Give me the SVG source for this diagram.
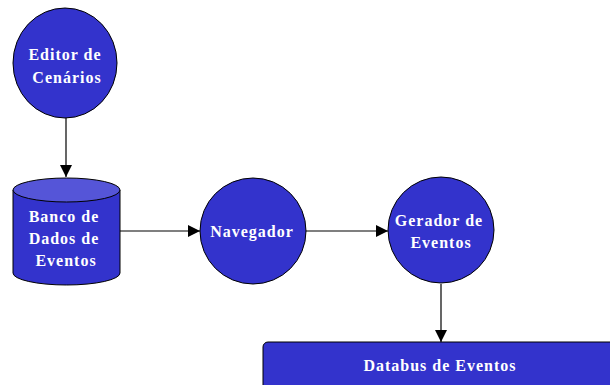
<svg xmlns="http://www.w3.org/2000/svg" width="610" height="385" viewBox="0 0 610 385">
  <defs>
    <marker id="arrow" viewBox="0 0 10 10" refX="10" refY="5" markerWidth="12" markerHeight="12" markerUnits="userSpaceOnUse" orient="auto">
      <path d="M0,0 L10,5 L0,10 Z" fill="#000"/>
    </marker>
    <style>
      .shape { fill: #3333CC; stroke: #000; stroke-width: 1; }
      .cap { fill: #5555D8; stroke: #000; stroke-width: 1; }
      .label { fill: #fff; font-family: "Liberation Serif", "Times New Roman", serif; font-weight: bold; font-size: 16px; letter-spacing: 1px; text-anchor: middle; }
      .edge { stroke: #000; stroke-width: 1.2; fill: none; marker-end: url(#arrow); }
    </style>
  </defs>
  <rect width="610" height="385" fill="#fff"/>

  <g id="connectors">
    <line class="edge" x1="66" y1="118" x2="66" y2="177"/>
    <line class="edge" x1="120" y1="231" x2="200" y2="231"/>
    <line class="edge" x1="306" y1="231" x2="388" y2="231"/>
    <line class="edge" x1="441" y1="284" x2="441" y2="342"/>
  </g>

  <g id="editor-cenarios">
    <ellipse class="shape" cx="65" cy="63" rx="52" ry="55"/>
    <text class="label" x="65" y="60">Editor de</text>
    <text class="label" x="67" y="83">Cenários</text>
  </g>

  <g id="banco-dados">
    <path class="shape" d="M13,190 L13,273 A53.5,12 0 0 0 120,273 L120,190"/>
    <ellipse class="cap" cx="66.5" cy="190" rx="53.5" ry="12"/>
    <text class="label" x="64" y="222">Banco de</text>
    <text class="label" x="64" y="244">Dados de</text>
    <text class="label" x="66" y="266">Eventos</text>
  </g>

  <g id="navegador">
    <circle class="shape" cx="253" cy="231" r="53"/>
    <text class="label" x="252" y="237">Navegador</text>
  </g>

  <g id="gerador-eventos">
    <circle class="shape" cx="441" cy="230" r="53"/>
    <text class="label" x="439" y="226">Gerador de</text>
    <text class="label" x="441" y="248">Eventos</text>
  </g>

  <g id="databus-eventos">
    <rect class="shape" x="263" y="342" width="360" height="60" rx="5" ry="5"/>
    <text class="label" x="440" y="371">Databus de Eventos</text>
  </g>
</svg>
